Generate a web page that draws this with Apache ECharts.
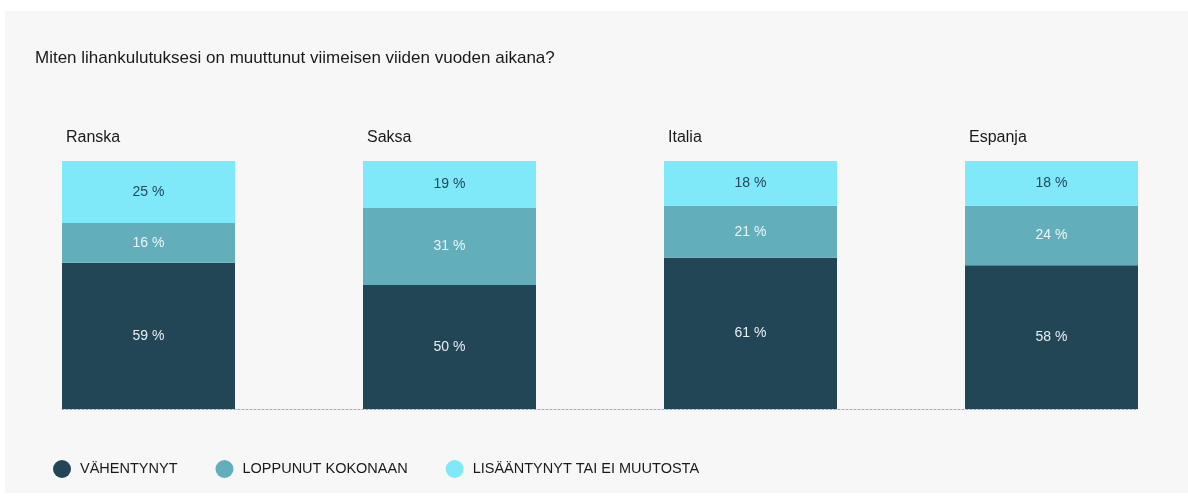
<!DOCTYPE html>
<html>
<head>
<meta charset="utf-8">
<script src="https://cdn.jsdelivr.net/npm/echarts@6/dist/echarts.min.js"></script>
<style>
  html, body { margin: 0; padding: 0; background: #fff; }
  #chart { width: 1188px; height: 496px; }
</style>
</head>
<body>
<div id="chart"></div>
<script>
// data
let countries = ['Ranska', 'Saksa', 'Italia', 'Espanja'];
let vahentynyt = [59, 50, 61, 58];
let loppunut = [16, 31, 21, 24];
let lisaantynyt = [25, 19, 18, 18];
let seriesNames = ['VÄHENTYNYT', 'LOPPUNUT KOKONAAN', 'LISÄÄNTYNYT TAI EI MUUTOSTA'];
let colors = ['#234657', '#62aebb', '#7fe9f9'];

let font = '"Liberation Sans", Arial, sans-serif';

let totals = countries.map((c, i) => vahentynyt[i] + loppunut[i] + lisaantynyt[i]);

let myChart = echarts.init(document.getElementById('chart'));

let valueLabel = (color) => ({
  show: true,
  position: 'inside',
  color: color,
  fontFamily: font,
  fontSize: 14,
  formatter: '{c} %'
});

myChart.setOption({
  animation: false,
  color: colors,
  graphic: [{
    type: 'rect',
    shape: { x: 5, y: 11, width: 1183, height: 482 },
    style: { fill: '#f7f7f7' },
    z: -10
  }],
  title: {
    text: 'Miten lihankulutuksesi on muuttunut viimeisen viiden vuoden aikana?',
    left: 30,
    top: 45,
    textStyle: { fontFamily: font, fontSize: 17, fontWeight: 'normal', color: '#1a1a1a' }
  },
  legend: {
    data: seriesNames,
    left: 48,
    top: 455,
    icon: 'circle',
    itemWidth: 18,
    itemHeight: 18,
    itemGap: 38,
    textStyle: { fontFamily: font, fontSize: 14.5, color: '#1a1a1a', padding: [0, 0, 0, 4] }
  },
  grid: [
    // bars: grid runs from the first bar centre to the last one
    { left: 148.5, right: 136.5, top: 161, bottom: 87 },
    // dotted baseline only
    { left: 62, right: 50, top: 161, bottom: 87 }
  ],
  xAxis: [{
    type: 'category',
    gridIndex: 0,
    boundaryGap: false,
    data: countries,
    axisLine: { show: false },
    axisTick: { show: false },
    axisLabel: { show: false }
  }, {
    type: 'value',
    gridIndex: 1,
    min: 0,
    max: 1,
    splitLine: { show: false },
    axisTick: { show: false },
    axisLabel: { show: false },
    axisLine: { show: true, lineStyle: { color: '#a9a9a9', type: [2, 2], width: 1 } }
  }],
  yAxis: [{
    type: 'value',
    gridIndex: 0,
    min: 0,
    max: 100,
    show: false
  }, {
    type: 'value',
    gridIndex: 1,
    min: 0,
    max: 1,
    show: false
  }],
  series: [{
    name: seriesNames[0],
    type: 'bar',
    stack: 'total',
    barWidth: 173,
    clip: false,
    data: vahentynyt,
    label: valueLabel('#e6eef1')
  }, {
    name: seriesNames[1],
    type: 'bar',
    stack: 'total',
    barWidth: 173,
    clip: false,
    data: loppunut,
    label: valueLabel('#eef6f7')
  }, {
    name: seriesNames[2],
    type: 'bar',
    stack: 'total',
    barWidth: 173,
    clip: false,
    data: lisaantynyt,
    label: valueLabel('#24495a')
  }, {
    // transparent overlay only for the country names above the bars
    name: 'maat',
    type: 'bar',
    barWidth: 173,
    barGap: '-100%',
    clip: false,
    silent: true,
    data: totals,
    itemStyle: { color: 'rgba(0,0,0,0)' },
    label: {
      show: true,
      position: [4, -23],
      align: 'left',
      verticalAlign: 'middle',
      fontFamily: font,
      fontSize: 16,
      color: '#1a1a1a',
      formatter: (p) => p.name
    }
  }]
});
</script>
</body>
</html>
